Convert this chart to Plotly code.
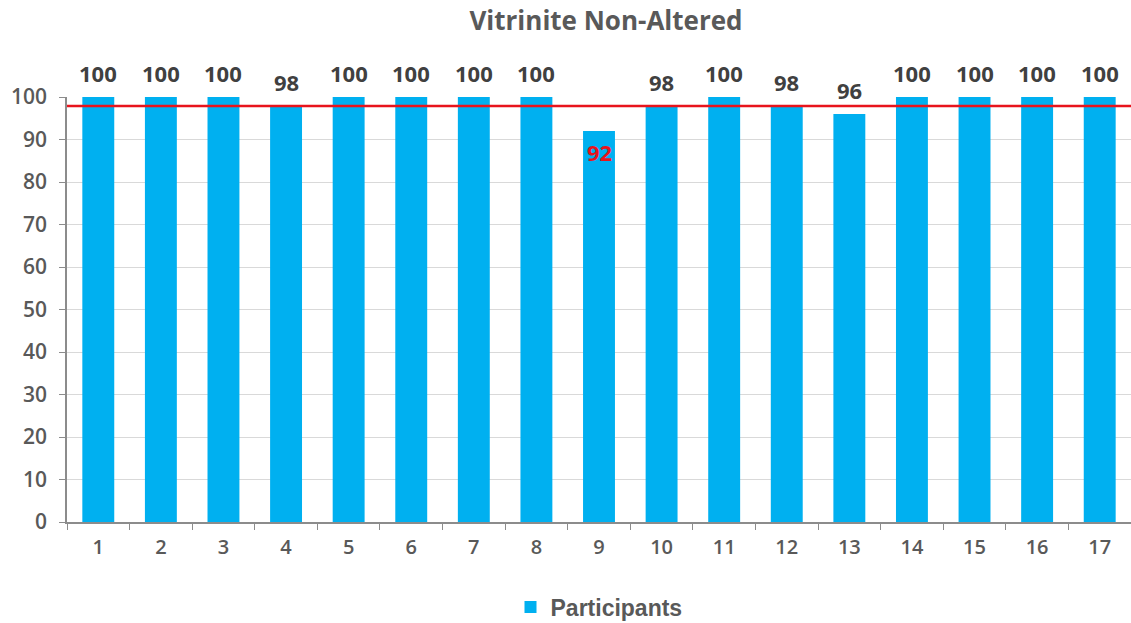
import plotly.graph_objects as go

# Samples and participant agreement (%)
samples = [str(i) for i in range(1, 18)]
participants = [100, 100, 100, 98, 100, 100, 100, 100, 92, 98, 100, 98, 96, 100, 100, 100, 100]
reference_level = 97.9
low_label_samples = ["9"]  # labels drawn in red inside the bar

title_text = "Vitrinite Non-Altered"
series_name = "Participants"

bar_color = "#00B0F0"
text_gray = "#595959"
label_gray = "#404040"
font_family = "Open Sans, Liberation Sans, sans-serif"

fig = go.Figure()
fig.add_trace(go.Bar(
    x=samples,
    y=participants,
    name=series_name,
    marker=dict(color=bar_color, line=dict(width=0)),
    showlegend=True,
))

# value labels positioned by category index
annotations = []
for idx, (s, v) in enumerate(zip(samples, participants)):
    if s in low_label_samples:
        annotations.append(dict(
            x=idx, y=v, xref="x", yref="y", text=f"<b>{v}</b>",
            showarrow=False, yanchor="top", yshift=-4,
            font=dict(family=font_family, size=22, color="#E8141C"),
        ))
    else:
        annotations.append(dict(
            x=idx, y=v, xref="x", yref="y", text=f"<b>{v}</b>",
            showarrow=False, yanchor="bottom", yshift=7,
            font=dict(family=font_family, size=22, color=label_gray),
        ))

fig.add_shape(
    type="line", xref="paper", yref="y",
    x0=0, x1=1, y0=reference_level, y1=reference_level,
    line=dict(color="#E8141C", width=2.5),
)

fig.update_layout(
    width=1131, height=623,
    margin=dict(l=67, r=0, t=97, b=101, autoexpand=False),
    paper_bgcolor="white", plot_bgcolor="white",
    bargap=0.49,
    title=dict(
        text=f"<b>{title_text}</b>",
        x=606 / 1131, xanchor="center", y=1 - 21 / 623, yanchor="middle",
        font=dict(family=font_family, size=26, color=text_gray),
    ),
    annotations=annotations,
    legend=dict(
        orientation="h", x=0.5, xanchor="center", y=-0.2, yanchor="middle",
        font=dict(family="Liberation Sans, Arial, sans-serif", size=23,
                  color=text_gray, weight="bold"),
        itemwidth=30,
    ),
    xaxis=dict(
        type="category",
        showline=True, linecolor="#8C8C8C", linewidth=1.5,
        ticks="outside", ticklen=6, tickcolor="#8C8C8C", tickson="boundaries",
        tickfont=dict(family=font_family, size=20, color=text_gray, weight=600),
        ticklabelstandoff=6,
        showgrid=False,
    ),
    yaxis=dict(
        range=[0, 100], dtick=10,
        showline=True, linecolor="#8C8C8C", linewidth=1.5,
        ticks="outside", ticklen=6, tickcolor="#8C8C8C",
        gridcolor="#D9D9D9", gridwidth=1,
        zeroline=False,
        tickfont=dict(family=font_family, size=21, color=text_gray, weight=600),
        ticklabelstandoff=8,
    ),
)

fig.write_html("out.html")
